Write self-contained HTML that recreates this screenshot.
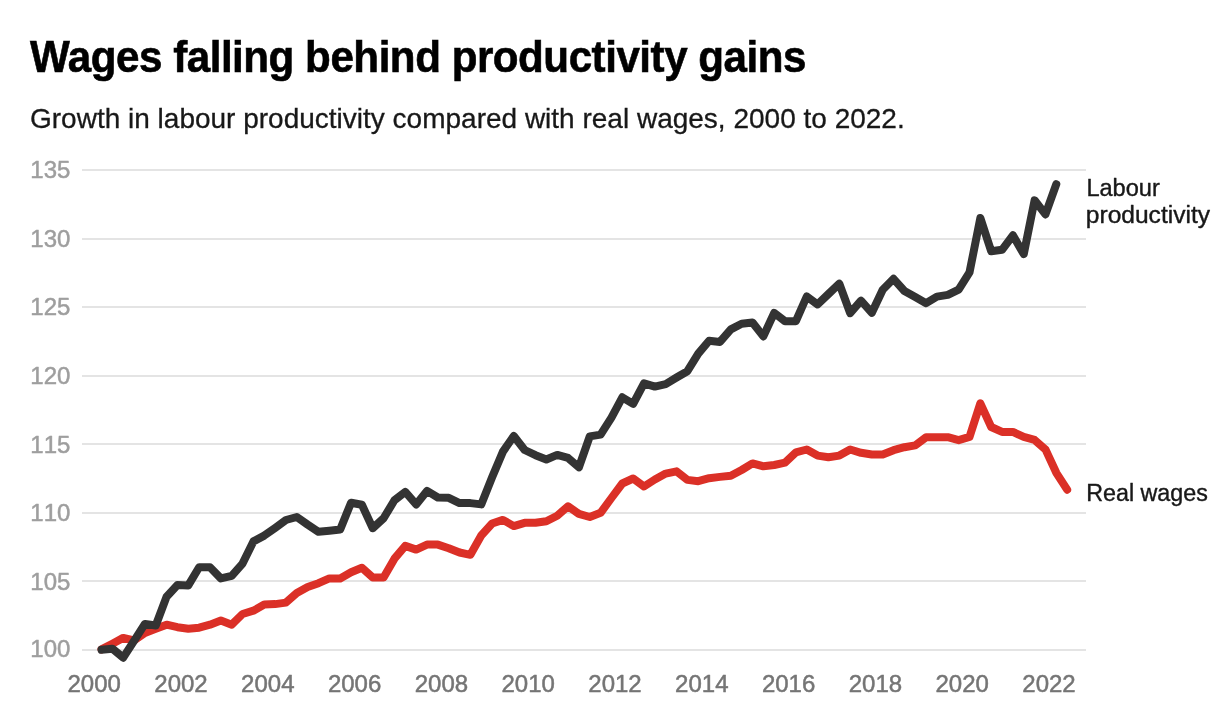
<!DOCTYPE html>
<html lang="en">
<head>
<meta charset="utf-8">
<title>Wages falling behind productivity gains</title>
<style>
  html, body { margin: 0; padding: 0; background: #ffffff; }
  body { width: 1228px; height: 728px; overflow: hidden; position: relative;
         font-family: "Liberation Sans", Arial, Helvetica, sans-serif; }
  .chart { position: absolute; left: 0; top: 0; width: 1228px; height: 728px; }
  h1.title { position: absolute; left: 30.4px; top: 32.6px; margin: 0; white-space: nowrap;
             font-size: 44px; line-height: 48px; font-weight: 700; color: #000;
             letter-spacing: -0.5px; -webkit-text-stroke: 0.6px #000; transform: scaleX(0.958); transform-origin: 0 0; }
  p.subtitle { position: absolute; left: 30px; top: 101.7px; margin: 0; white-space: nowrap;
               font-size: 28px; line-height: 34px; font-weight: 400; color: #181818; -webkit-text-stroke: 0.3px #181818;
               transform-origin: 0 0; }
  svg text { font-family: "Liberation Sans", Arial, Helvetica, sans-serif; font-size: 24px; stroke-width: 0.5px; stroke-linejoin: round; }
  .grid line { stroke: #e4e4e4; stroke-width: 2; shape-rendering: crispEdges; }
  .ylab text { fill: #9e9e9e; stroke: #9e9e9e; text-anchor: start; letter-spacing: 0.1px; font-kerning: none; }
  .xlab text { fill: #757575; stroke: #757575; text-anchor: middle; font-kerning: none; }
  .slab text { fill: #181818; stroke: #181818; stroke-width: 0.4px; text-anchor: start; font-size: 23.5px; }
  .series { fill: none; stroke-width: 8; stroke-linejoin: round; stroke-linecap: round; }
</style>
</head>
<body>
<h1 class="title">Wages falling behind productivity gains</h1>
<p class="subtitle">Growth in labour productivity compared with real wages, 2000 to 2022.</p>
<svg class="chart" width="1228" height="728" viewBox="0 0 1228 728" role="img" aria-label="Line chart of labour productivity and real wages, 2000 to 2022">
  <g class="grid">
    <line x1="82" x2="1086" y1="170.0" y2="170.0"/>
    <line x1="82" x2="1086" y1="238.6" y2="238.6"/>
    <line x1="82" x2="1086" y1="307.1" y2="307.1"/>
    <line x1="82" x2="1086" y1="375.7" y2="375.7"/>
    <line x1="82" x2="1086" y1="444.3" y2="444.3"/>
    <line x1="82" x2="1086" y1="512.9" y2="512.9"/>
    <line x1="82" x2="1086" y1="581.4" y2="581.4"/>
    <line x1="82" x2="1086" y1="650.0" y2="650.0"/>
  </g>
  <g class="ylab">
    <text x="30.2" y="178.2">135</text>
    <text x="30.2" y="246.8">130</text>
    <text x="30.2" y="315.3">125</text>
    <text x="30.2" y="383.9">120</text>
    <text x="30.2" y="452.5">115</text>
    <text x="30.2" y="521.1">110</text>
    <text x="30.2" y="589.6">105</text>
    <text x="30.2" y="657.2">100</text>
  </g>
  <g class="xlab">
    <text x="94.2" y="692.0">2000</text>
    <text x="181.0" y="692.0">2002</text>
    <text x="267.8" y="692.0">2004</text>
    <text x="354.6" y="692.0">2006</text>
    <text x="441.4" y="692.0">2008</text>
    <text x="528.2" y="692.0">2010</text>
    <text x="615.0" y="692.0">2012</text>
    <text x="701.8" y="692.0">2014</text>
    <text x="788.6" y="692.0">2016</text>
    <text x="875.4" y="692.0">2018</text>
    <text x="962.2" y="692.0">2020</text>
    <text x="1049.0" y="692.0">2022</text>
  </g>
  <polyline class="series" stroke="#db3027" points="101.50,649.4 112.35,643.7 123.20,637.9 134.05,640.4 144.90,632.9 155.75,628.8 166.60,624.7 177.45,627.2 188.30,628.8 199.15,627.7 210.00,624.7 220.85,620.6 231.70,624.7 242.55,614.0 253.40,610.7 264.25,604.6 275.10,604.1 285.95,602.6 296.80,593.0 307.65,587.0 318.50,583.2 329.35,578.4 340.20,578.4 351.05,572.3 361.90,567.8 372.75,577.4 383.60,577.4 394.45,558.7 405.30,545.9 416.15,549.6 427.00,544.6 437.85,544.6 448.70,548.2 459.55,552.5 470.40,554.8 481.25,535.5 492.10,523.5 502.95,519.9 513.80,526.1 524.65,522.8 535.50,522.8 546.35,521.2 557.20,515.7 568.05,506.3 578.90,513.9 589.75,517.0 600.60,512.8 611.45,498.0 622.30,483.5 633.15,478.5 644.00,486.5 654.85,479.5 665.70,473.6 676.55,471.3 687.40,479.9 698.25,481.2 709.10,478.2 719.95,476.9 730.80,475.7 741.65,470.0 752.50,463.4 763.35,466.3 774.20,465.0 785.05,462.7 795.90,452.3 806.75,449.5 817.60,455.6 828.45,457.3 839.30,455.6 850.15,449.5 861.00,452.8 871.85,454.5 882.70,454.5 893.55,450.2 904.40,447.2 915.25,445.4 926.10,437.2 936.95,437.2 947.80,437.2 958.65,440.2 969.50,436.9 980.35,403.3 991.20,427.0 1002.05,431.9 1012.90,431.9 1023.75,436.9 1034.60,439.9 1045.45,449.4 1056.30,472.8 1067.15,489.7"/>
  <polyline class="series" stroke="#333333" points="101.50,649.8 112.35,648.7 123.20,657.7 134.05,640.9 144.90,623.9 155.75,625.5 166.60,596.7 177.45,585.1 188.30,585.4 199.15,567.3 210.00,567.3 220.85,578.4 231.70,575.9 242.55,563.6 253.40,541.4 264.25,535.6 275.10,527.9 285.95,520.0 296.80,517.0 307.65,524.6 318.50,531.8 329.35,530.7 340.20,529.5 351.05,502.7 361.90,504.8 372.75,528.2 383.60,518.3 394.45,500.2 405.30,491.9 416.15,504.4 427.00,490.9 437.85,497.5 448.70,497.8 459.55,503.1 470.40,503.1 481.25,504.4 492.10,477.2 502.95,451.6 513.80,436.0 524.65,450.0 535.50,455.2 546.35,459.5 557.20,454.9 568.05,457.9 578.90,467.3 589.75,436.4 600.60,434.6 611.45,417.6 622.30,397.3 633.15,403.9 644.00,383.3 654.85,386.6 665.70,384.1 676.55,377.5 687.40,371.2 698.25,353.6 709.10,340.7 719.95,341.9 730.80,329.4 741.65,323.7 752.50,322.5 763.35,336.4 774.20,312.9 785.05,321.2 795.90,321.2 806.75,296.5 817.60,304.4 828.45,294.0 839.30,283.7 850.15,313.2 861.00,300.7 871.85,312.8 882.70,289.7 893.55,278.8 904.40,291.0 915.25,297.1 926.10,303.2 936.95,296.6 947.80,294.9 958.65,289.6 969.50,272.4 980.35,218.0 991.20,251.3 1002.05,249.8 1012.90,235.3 1023.75,254.1 1034.60,200.3 1045.45,214.4 1056.30,184.2"/>
  <g class="slab">
    <text x="1086.4" y="195.6" textLength="73.4" lengthAdjust="spacingAndGlyphs">Labour</text>
    <text x="1085.8" y="223.4" textLength="124.2" lengthAdjust="spacingAndGlyphs">productivity</text>
    <text x="1086.2" y="500.9" textLength="121.6" lengthAdjust="spacingAndGlyphs">Real wages</text>
  </g>
</svg>
</body>
</html>
